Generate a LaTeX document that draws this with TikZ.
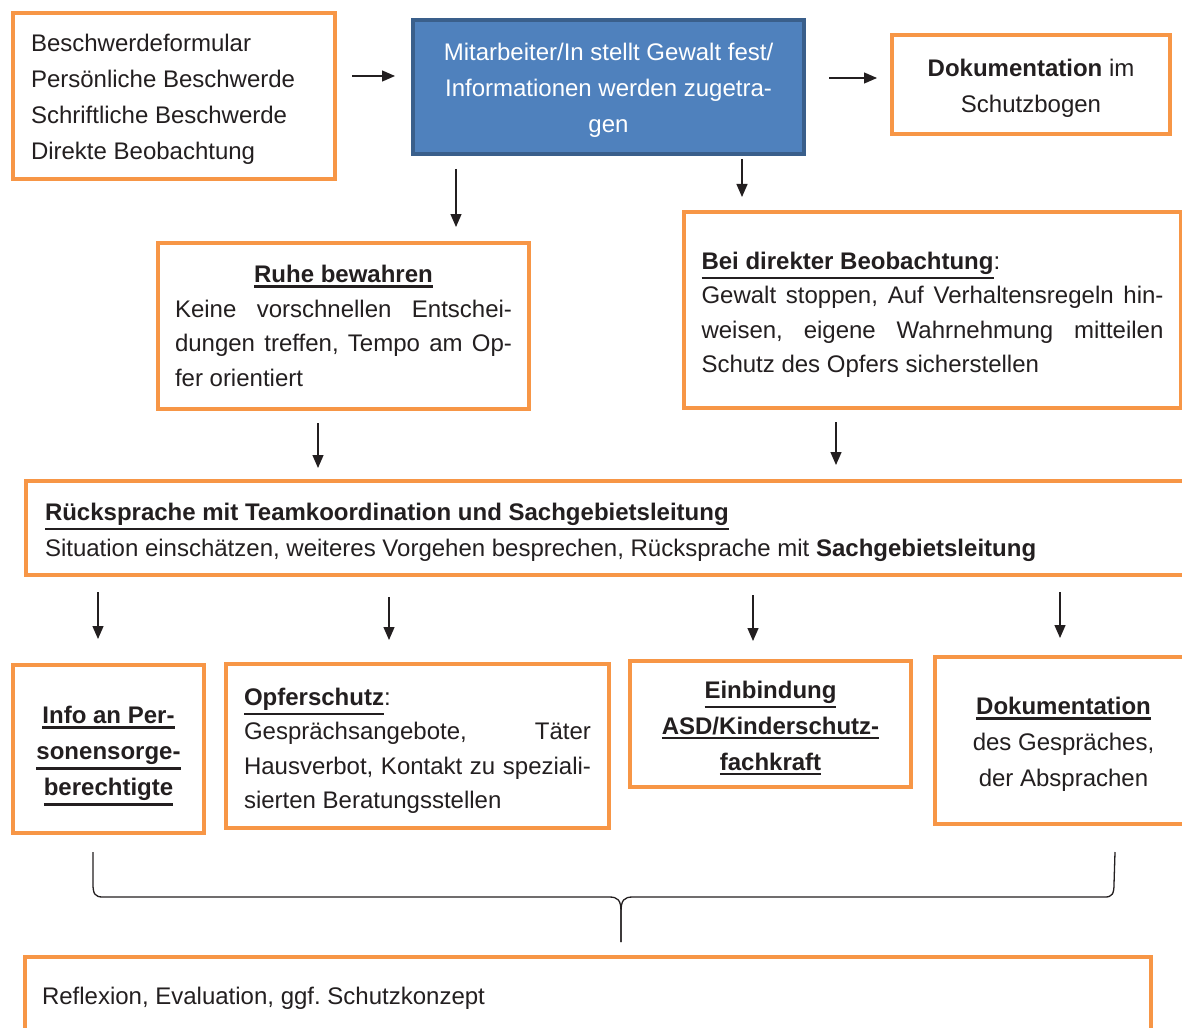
\documentclass[tikz,border=0pt]{standalone}
\usepackage{fontspec}
\setmainfont{Liberation Sans}
\usetikzlibrary{arrows.meta,calc}
\definecolor{borange}{HTML}{F79646}
\definecolor{bblue}{HTML}{4F81BD}
\definecolor{bblueb}{HTML}{3A5F8B}
\definecolor{txt}{HTML}{231F20}
\frenchspacing
\newcommand\myul[1]{\leavevmode\vtop{\hbox{#1}\kern2.4pt\hrule height 2.2pt}}
\newcommand\jline[2]{\leavevmode\hbox to #1{\spaceskip=6.67pt plus 1fil\relax #2}}
\newcommand\tbox[4]{\raisebox{#1}[\height][\depth]{\parbox[t]{#2}{#3#4}}}
\newcommand\fnormal{\fontsize{24}{36}\selectfont\lineskiplimit=-20pt\relax}
\newcommand\ftight{\fontsize{24}{34.5}\selectfont\lineskiplimit=-20pt\relax}
\tikzset{
  obox/.style={draw=borange, line width=4pt, fill=white, rectangle, anchor=north west,
    inner sep=0pt, text=txt, font=\fnormal},
  bbox/.style={draw=bblueb, line width=4pt, fill=bblue, rectangle, anchor=north west,
    inner sep=0pt, text=white, font=\fnormal},
  tight/.style={font=\ftight},
  arr/.style={draw=txt, line width=1.3pt, -{Triangle[length=13pt,width=11pt]}},
  bracel/.style={draw=txt, line width=1.3pt}
}
\begin{document}
\begin{tikzpicture}[x=1pt,y=-1pt]
\useasboundingbox (0,0) rectangle (1182,1027);
\clip (0,0) rectangle (1182,1027);

% boxes
\node[obox, minimum width=322, minimum height=166] (src) at (11,11)
  {\tbox{-3pt}{286pt}{\raggedright}{Beschwerdeformular\\Persönliche Beschwerde\\Schriftliche Beschwerde\\Direkte Beobachtung}};
\node[bbox, minimum width=391, minimum height=134] (blue) at (411,18)
  {\tbox{-3pt}{360pt}{\centering}{Mitarbeiter/In stellt Gewalt fest/\\Informationen werden zugetra-\\gen}};
\node[obox, minimum width=278, minimum height=99] (dok1) at (890,33)
  {\tbox{-4pt}{250pt}{\centering}{\textbf{Dokumentation} im\\Schutzbogen}};
\node[obox, tight, minimum width=371, minimum height=166] (ruhe) at (156,241)
  {\tbox{0pt}{337pt}{\raggedright}{\makebox[337pt]{\myul{\textbf{Ruhe bewahren}}}\\\jline{337pt}{Keine vorschnellen Entschei-}\\\jline{337pt}{dungen treffen, Tempo am Op-}\\fer orientiert}};
\node[obox, tight, minimum width=497, minimum height=196] (bei) at (682,210)
  {\tbox{-5pt}{462pt}{\raggedright}{\myul{\textbf{Bei direkter Beobachtung}}:\\\jline{462pt}{Gewalt stoppen, Auf Verhaltensregeln hin-}\\\jline{462pt}{weisen, eigene Wahrnehmung mitteilen}\\Schutz des Opfers sicherstellen}};
\node[obox, minimum width=1200, minimum height=94] (rueck) at (24,479)
  {\tbox{-4pt}{1162pt}{\raggedright}{\myul{\textbf{Rücksprache mit Teamkoordination und Sachgebietsleitung}}\\Situation einschätzen, weiteres Vorgehen besprechen, Rücksprache mit \textbf{Sachgebietsleitung}}};
\node[obox, minimum width=191, minimum height=168] (info) at (11,663)
  {\tbox{-7pt}{171pt}{\centering}{\myul{\textbf{Info an Per-}}\\\myul{\textbf{sonensorge-}}\\\myul{\textbf{berechtigte}}}};
\node[obox, tight, minimum width=383, minimum height=164] (opfer) at (224,662)
  {\tbox{-5pt}{347pt}{\raggedright}{\myul{\textbf{Opferschutz}}:\\\jline{347pt}{Gesprächsangebote, Täter}\\\jline{347pt}{Hausverbot, Kontakt zu speziali-}\\sierten Beratungsstellen}};
\node[obox, minimum width=281, minimum height=126] (ein) at (628,659)
  {\tbox{-4pt}{260pt}{\centering}{\myul{\textbf{Einbindung}}\\\myul{\textbf{ASD/Kinderschutz-}}\\\myul{\textbf{fachkraft}}}};
\node[obox, minimum width=257, minimum height=167] (dok2) at (933,655)
  {\tbox{-4pt}{230pt}{\centering}{\myul{\textbf{Dokumentation}}\\des Gespräches,\\der Absprachen}};
\node[obox, minimum width=1126, minimum height=84] (bottom) at (23,955)
  {\tbox{1pt}{1092pt}{\raggedright}{Reflexion, Evaluation, ggf. Schutzkonzept}};

% arrow guide coordinates
\coordinate (ya1) at (0,76);
\coordinate (ya2) at (0,78);
\coordinate (xa3) at (456,0);
\coordinate (xa4) at (742,0);
\coordinate (xa5) at (318,0);
\coordinate (xa6) at (836,0);
\coordinate (xa7) at (98,0);
\coordinate (xa8) at (389,0);
\coordinate (xa9) at (753,0);
\coordinate (xa10) at (1060,0);

\draw[arr, shorten <=15pt, shorten >=16pt] (src.east |- ya1) -- (blue.west |- ya1);
\draw[arr, shorten <=23pt, shorten >=13pt] (blue.east |- ya2) -- (dok1.west |- ya2);
\draw[arr, shorten <=13pt, shorten >=14pt] (blue.south -| xa3) -- (ruhe.north -| xa3);
\draw[arr, shorten <=3pt, shorten >=13pt] (blue.south -| xa4) -- (bei.north -| xa4);
\draw[arr, shorten <=12pt, shorten >=11pt] (ruhe.south -| xa5) -- (rueck.north -| xa5);
\draw[arr, shorten <=12pt, shorten >=14pt] (bei.south -| xa6) -- (rueck.north -| xa6);
\draw[arr, shorten <=15pt, shorten >=24pt] (rueck.south -| xa7) -- (info.north -| xa7);
\draw[arr, shorten <=20pt, shorten >=22pt] (rueck.south -| xa8) -- (opfer.north -| xa8);
\draw[arr, shorten <=18pt, shorten >=18pt] (rueck.south -| xa9) -- (ein.north -| xa9);
\draw[arr, shorten <=15pt, shorten >=17pt] (rueck.south -| xa10) -- (dok2.north -| xa10);

% brace
\coordinate (bl) at (93,852);
\coordinate (br) at (1115,852);
\coordinate (bt) at (621,942);
\draw[bracel] (bl) -- (93,884) .. controls (93,894) and (95,897) .. (103,897)
  -- (609,897) .. controls (618,897) and (621,900) .. (621,912) -- (bt);
\draw[bracel] (bt) -- (621,912) .. controls (621,900) and (624,897) .. (633,897)
  -- (1105,897) .. controls (1112,897) and (1114,894) .. (1114,884) -- (br);
\end{tikzpicture}
\end{document}
